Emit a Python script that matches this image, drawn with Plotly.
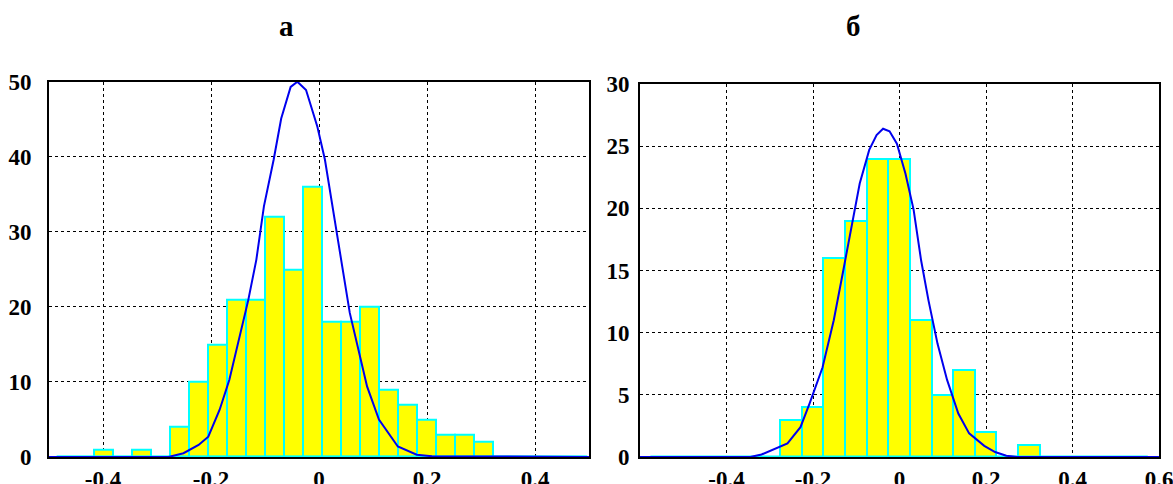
import plotly.graph_objects as go

# ---------------- data: panel "а" ----------------
bin_start_a = -0.486
bin_width_a = 0.0351
counts_a = [0, 0, 1, 0, 1, 0, 4, 10, 15, 21, 21, 32, 25, 36, 18, 18, 20, 9, 7, 5, 3, 3, 2, 0, 0, 0, 0, 0]

curve_a_x = [-0.5, -0.279, -0.251, -0.223, -0.205, -0.184, -0.166, -0.148, -0.131, -0.116, -0.102,
             -0.084, -0.070, -0.0525, -0.040, -0.024, -0.003, 0.011, 0.0255, 0.043, 0.057, 0.075,
             0.089, 0.111, 0.146, 0.181, 0.209, 0.5]
curve_a_y = [0, 0, 0.5, 1.6, 2.7, 6.3, 10.3, 15.6, 20.9, 26.3, 33.4,
             39.6, 45.1, 49.3, 50.0, 48.9, 44.0, 39.6, 33.4, 25.4, 19.2, 13.8,
             9.4, 5.0, 1.4, 0.3, 0.1, 0]

# ---------------- data: panel "б" ----------------
bin_start_b = -0.576
bin_width_b = 0.05
counts_b = [0, 0, 0, 0, 0, 0, 3, 4, 16, 19, 24, 24, 11, 5, 7, 2, 0, 1, 0, 0, 0, 0, 0]

curve_b_x = [-0.6, -0.345, -0.319, -0.285, -0.259, -0.229, -0.208, -0.178, -0.152, -0.130, -0.109,
             -0.092, -0.070, -0.053, -0.038, -0.023, -0.006, 0.0137, 0.0326, 0.050, 0.067, 0.088,
             0.110, 0.136, 0.161, 0.196, 0.221, 0.247, 0.273, 0.6]
curve_b_y = [0, 0, 0.2, 0.7, 1.1, 2.4, 4.3, 7.2, 11.0, 15.0, 18.8,
             22.0, 24.7, 25.9, 26.4, 26.2, 25.2, 22.8, 19.9, 15.8, 12.6, 9.1,
             6.2, 3.5, 1.9, 0.9, 0.4, 0.1, 0, 0]

titles = ["а", "б"]
xticks_a = [-0.4, -0.2, 0, 0.2, 0.4]
xticklabels_a = ["-0.4", "-0.2", "0", "0.2", "0.4"]
yticks_a = [0, 10, 20, 30, 40, 50]
xticks_b = [-0.4, -0.2, 0, 0.2, 0.4, 0.6]
xticklabels_b = ["-0.4", "-0.2", "0", "0.2", "0.4", "0.6"]
yticks_b = [0, 5, 10, 15, 20, 25, 30]

W, H = 1173, 484
YELLOW = "#FFFF00"
CYAN = "#00FFFF"
BLUE = "#0000EE"
FONT = "Liberation Serif, Times New Roman, serif"

fig = go.Figure()


def add_panel(counts, start, width, cx, cy, xa, ya):
    centers = [start + width * (i + 0.5) for i in range(len(counts))]
    edges = [start, start + width * len(counts)]
    # baseline of empty bins
    fig.add_trace(go.Scatter(x=edges, y=[0, 0], mode="lines",
                             line=dict(color=CYAN, width=3),
                             xaxis=xa, yaxis=ya, showlegend=False, hoverinfo="skip"))
    fig.add_trace(go.Bar(x=centers, y=counts, width=width,
                         marker=dict(color=YELLOW, line=dict(color=CYAN, width=2)),
                         xaxis=xa, yaxis=ya, showlegend=False))
    fig.add_trace(go.Scatter(x=cx, y=cy, mode="lines",
                             line=dict(color=BLUE, width=2),
                             xaxis=xa, yaxis=ya, showlegend=False))


add_panel(counts_a, bin_start_a, bin_width_a, curve_a_x, curve_a_y, "x", "y")
add_panel(counts_b, bin_start_b, bin_width_b, curve_b_x, curve_b_y, "x2", "y2")

tickfont = dict(family=FONT, size=23, color="black", weight="bold")
common_x = dict(showline=True, linecolor="black", linewidth=2, mirror=True,
                showgrid=True, gridcolor="black", griddash="dot", gridwidth=1,
                zeroline=False, ticks="", tickfont=tickfont, automargin=False,
                ticklabelstandoff=0, tickmode="array", ticklabeloverflow="allow")
common_y = dict(showline=True, linecolor="black", linewidth=2, mirror=True,
                showgrid=True, gridcolor="black", griddash="dot", gridwidth=1,
                zeroline=False, ticks="", tickfont=tickfont, automargin=False,
                tickmode="array", ticklabeloverflow="allow")

fig.update_layout(
    width=W, height=H,
    margin=dict(l=0, r=0, t=0, b=0),
    paper_bgcolor="white", plot_bgcolor="white",
    bargap=0,
    showlegend=False,
    xaxis=dict(common_x, domain=[49 / W, 589 / W], range=[-0.5, 0.5],
               tickvals=xticks_a, ticktext=xticklabels_a, anchor="y"),
    yaxis=dict(common_y, domain=[(H - 457) / H, (H - 81.7) / H], range=[0, 50],
               tickvals=yticks_a, anchor="x", ticklabelstandoff=11),
    xaxis2=dict(common_x, domain=[640 / W, 1159 / W], range=[-0.6, 0.6],
                tickvals=xticks_b, ticktext=xticklabels_b, anchor="y2"),
    yaxis2=dict(common_y, domain=[(H - 457) / H, (H - 84) / H], range=[0, 30],
                tickvals=yticks_b, anchor="x2", ticklabelstandoff=4),
    annotations=[
        dict(text=titles[0], x=286 / W, y=1 - 26 / H, xref="paper", yref="paper",
             xanchor="center", yanchor="middle", showarrow=False,
             font=dict(family=FONT, size=29, color="black", weight="bold")),
        dict(text=titles[1], x=853 / W, y=1 - 26 / H, xref="paper", yref="paper",
             xanchor="center", yanchor="middle", showarrow=False,
             font=dict(family=FONT, size=29, color="black", weight="bold")),
    ],
)

fig.write_html("out.html")
